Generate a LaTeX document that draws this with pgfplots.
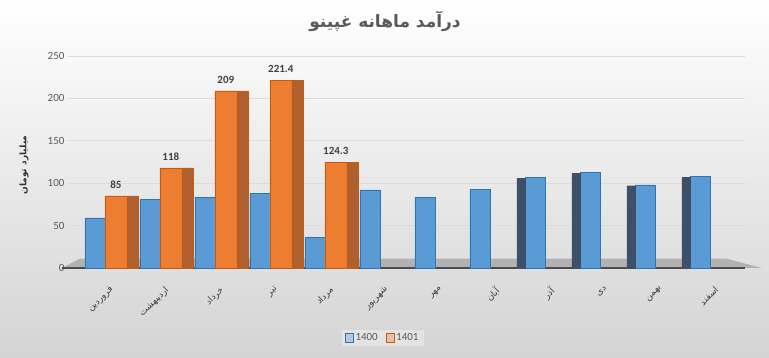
\documentclass[border=0pt]{standalone}
\usepackage{fontspec}
\setmainfont{Carlito}
\newfontfamily\arabicfont[Script=Arabic]{DejaVu Sans}
\TeXXeTstate=1
\usepackage{pgfplots}
\pgfplotsset{compat=1.18}
\definecolor{blueF}{HTML}{5B9BD5}
\definecolor{blueD}{HTML}{2E75B6}
\definecolor{blueS}{HTML}{3D5068}
\definecolor{orgF}{HTML}{ED7D31}
\definecolor{orgD}{HTML}{C55A11}
\definecolor{orgS}{HTML}{B0602F}
\definecolor{txt}{HTML}{595959}
\newcommand{\ar}[1]{{\arabicfont\beginR #1\endR}}
\begin{document}
\begin{tikzpicture}[x=1pt,y=1pt]
\shade[top color=white, bottom color=black!17] (0,0) rectangle (769,358);
\begin{axis}[at={(68pt,90pt)}, anchor=south west, scale only axis,
  width=677pt, height=212pt,
  xmin=-0.67, xmax=11.64, ymin=0, ymax=250,
  ytick={0,50,...,250},
  xtick={0,...,11},
  xticklabels={\ar{فروردین},\ar{اردیبهشت},\ar{خرداد},\ar{تیر},\ar{مرداد},\ar{شهریور},\ar{مهر},\ar{آبان},\ar{آذر},\ar{دی},\ar{بهمن},\ar{اسفند}},
  x tick label style={rotate=45, anchor=north east, font=\fontsize{9}{10}\selectfont, text=black!75, yshift=-9pt, xshift=-3pt},
  y tick label style={font=\fontsize{11}{12}\selectfont, text=txt},
  /pgf/number format/assume math mode=true,
  axis line style={draw=none}, major tick style={draw=none},
  ymajorgrids, grid style={black!14, line width=0.8pt},
  clip=false,
  ybar,
  legend style={at={(0.465,-0.33)}, anchor=center, legend columns=2, draw=none,
    fill=white, fill opacity=0.35, text opacity=1, font=\fontsize{11}{12}\selectfont, text=txt,
    /tikz/every even column/.append style={column sep=6pt}},
  legend image code/.code={\draw[#1] (0pt,-4pt) rectangle (8pt,5pt);},
]
\fill[black!30] (axis cs:-0.78,0) -- (axis cs:11.95,0) -- (axis cs:11.3,11) -- (axis cs:-0.45,11) -- cycle;
\draw[black!70, line width=1.6pt] (axis cs:-0.78,0) -- (axis cs:11.64,0);
\addplot[fill=blueF, draw=blueD, bar width=20pt, bar shift=-10pt] coordinates {
 (0,59) (1,81) (2,83) (3,88) (4,36) (5,92) (6,83) (7,93) (8,107) (9,113) (10,98) (11,108)};
\addplot[fill=orgF, draw=orgD, bar width=22pt, bar shift=11pt,
  nodes near coords, nodes near coords style={font=\bfseries\fontsize{11}{12}\selectfont, text=black!75, yshift=4pt}] coordinates {
 (0,85) (1,118) (2,209) (3,221.4) (4,124.3)};
\addplot[fill=orgS, draw=orgD, bar width=11pt, bar shift=27.5pt, forget plot] coordinates {
 (0,85) (1,118) (2,209) (3,221.4) (4,124.3)};
\addplot[fill=blueS, draw=blueS, bar width=8pt, bar shift=-24pt, forget plot] coordinates {
 (8,106) (9,112) (10,97) (11,107)};
\legend{1400,1401}
\end{axis}
\node[font=\bfseries\fontsize{17}{20}\selectfont, text=txt] at (385,337) {\ar{درآمد ماهانه غپینو}};
\node[rotate=90, font=\bfseries\fontsize{9}{10}\selectfont, text=black!80] at (24,193) {\ar{میلیارد تومان}};
\end{tikzpicture}
\end{document}
